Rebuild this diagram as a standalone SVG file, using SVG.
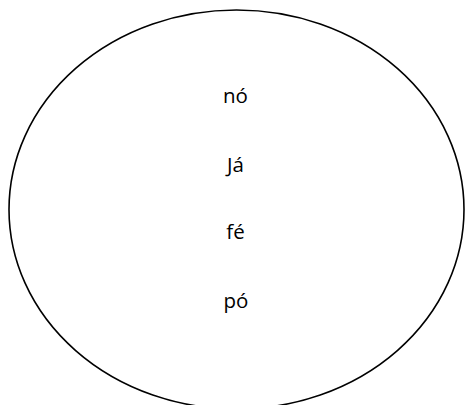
<svg xmlns="http://www.w3.org/2000/svg" width="465" height="405" viewBox="0 0 465 405">
<style>
.shape{fill:#ffffff;stroke:#000000;stroke-width:1.6}
.lbl{font-family:"Open Sans","Noto Sans","Liberation Sans",sans-serif;font-size:20.5px;fill:#000000;text-anchor:middle}
</style>
<rect width="465" height="405" fill="#ffffff"/>
<g id="ellipse-node">
<ellipse class="shape" cx="236.5" cy="209.5" rx="227.5" ry="199.5"/>
<text class="lbl" x="235.5" y="103">nó</text>
<text class="lbl" x="235.5" y="172">Já</text>
<text class="lbl" x="235.5" y="239">fé</text>
<text class="lbl" x="236" y="308">pó</text>
</g>
<g id="connectors"></g>
</svg>
